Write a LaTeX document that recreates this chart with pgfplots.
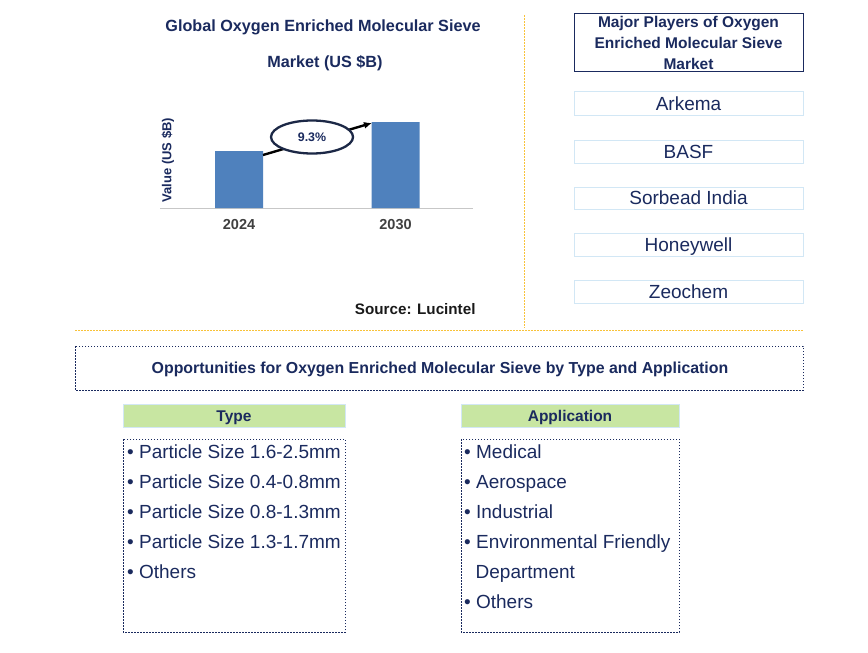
\documentclass[border=0pt]{standalone}
\usepackage{pgfplots}
\pgfplotsset{compat=1.18}
\usepackage{fontspec}
\setmainfont{Liberation Sans}
\usetikzlibrary{arrows.meta}
\definecolor{navy}{HTML}{1A2A5E}
\definecolor{barblue}{HTML}{4F81BD}
\definecolor{gold}{HTML}{F8C23A}
\definecolor{lblue}{HTML}{D2E7F5}
\definecolor{hgreen}{HTML}{C8E6A2}
\definecolor{tickgray}{HTML}{404040}
\newcommand{\fs}[1]{\fontsize{#1bp}{#1bp}\selectfont}
\begin{document}
\begin{tikzpicture}
\begin{axis}[
  at={(160bp,-208bp)}, anchor=south west,
  width=313bp, height=108bp, scale only axis,
  xmin=-0.505, xmax=1.495, ymin=0, ymax=108,
  enlargelimits=false, clip=false,
  axis x line=bottom, axis y line=none,
  x axis line style={-, draw=black!22, line width=0.8bp},
  xtick={0,1}, xticklabels={2024,2030},
  xtick style={draw=none},
  xticklabel style={anchor=center, yshift=-14bp, font=\fs{14.5}\bfseries, text=tickgray},
  ytick=\empty,
]
\addplot[ybar, bar width=0.307, fill=barblue, draw=none] coordinates {(0,57) (1,86)};
\node[rotate=90, anchor=center, font=\fs{13}\bfseries, text=navy] at (axis description cs:0.0256,0.444) {Value (US \$B)};
\end{axis}
\begin{scope}[x=1bp,y=-1bp]
\path[use as bounding box] (0,0) rectangle (868,653);
% arrow and ellipse
\draw[line width=2.4bp, -{Latex[length=8bp,width=7bp]}] (263,155) -- (372,123);
\draw[draw={rgb,255:red,28;green,40;blue,70}, line width=2.3bp, fill=white] (312,137) ellipse [x radius=41, y radius=16.5];
\node[text=navy, font=\fs{12.4}\bfseries, anchor=base] at (312,141.5) {9.3\%};
% title
\node[text=navy, font=\fs{16.2}\bfseries, anchor=base] at (323,31.5) {Global Oxygen Enriched Molecular Sieve};
\node[text=navy, font=\fs{16.2}\bfseries, anchor=base] at (325,67.5) {Market (US \$B)};
\node[text=black!90, font=\fs{15.2}\bfseries, anchor=base east] at (479,314.5) {Source: Lucintel};
% separators
\draw[gold, line width=1bp, dash pattern=on 2bp off 1bp] (524,15) -- (524,328);
\draw[gold, line width=1bp, dash pattern=on 2bp off 1bp] (75,330) -- (803,330);
% major players
\draw[navy, line width=1bp] (574,14) rectangle (803,72);
\node[text=navy, font=\fs{15.5}\bfseries, anchor=base] at (688.5,27.5) {Major Players of Oxygen};
\node[text=navy, font=\fs{15.5}\bfseries, anchor=base] at (688.5,48.5) {Enriched Molecular Sieve};
\node[text=navy, font=\fs{15.5}\bfseries, anchor=base] at (688.5,69.5) {Market};
\foreach \ya/\yb/\name in {92/116/Arkema, 141/163/BASF, 187/209/Sorbead India, 233/256/Honeywell, 280/303/Zeochem}{
  \draw[lblue, line width=1bp] (574,\ya) rectangle (803,\yb);
  \node[text=navy, font=\fs{19}, anchor=base] at (688.5,{(\ya+\yb)/2+6.8}) {\name};
}
% opportunities
\draw[navy, line width=1bp, dash pattern=on 1.5bp off 1.5bp] (75,346) rectangle (803,390);
\node[text=navy, font=\fs{15.9}\bfseries, anchor=base] at (440,373.5) {Opportunities for Oxygen Enriched Molecular Sieve by Type and Application};
% headers
\draw[lblue, line width=1bp, fill=hgreen] (123,404) rectangle (345,427);
\node[text=navy, font=\fs{15.5}\bfseries, anchor=base] at (234,421) {Type};
\draw[lblue, line width=1bp, fill=hgreen] (461,404) rectangle (679,427);
\node[text=navy, font=\fs{15.5}\bfseries, anchor=base] at (570,421) {Application};
% lists
\draw[navy, line width=1bp, dash pattern=on 1.5bp off 1.5bp] (123,439) rectangle (345,632);
\draw[navy, line width=1bp, dash pattern=on 1.5bp off 1.5bp] (461,439) rectangle (679,632);
\foreach \y/\t in {452/Particle Size 1.6-2.5mm, 482/Particle Size 0.4-0.8mm, 512/Particle Size 0.8-1.3mm, 542/Particle Size 1.3-1.7mm, 572/Others}{
  \node[text=navy, font=\fs{19}, anchor=base west, inner sep=0pt] at (127,{\y+6.8}) {• \t};
}
\foreach \y/\t in {452/Medical, 482/Aerospace, 512/Industrial, 542/Environmental Friendly, 602/Others}{
  \node[text=navy, font=\fs{19}, anchor=base west, inner sep=0pt] at (464,{\y+6.8}) {• \t};
}
\node[text=navy, font=\fs{19}, anchor=base west, inner sep=0pt] at (475.5,578.8) {Department};
\end{scope}
\end{tikzpicture}
\end{document}
